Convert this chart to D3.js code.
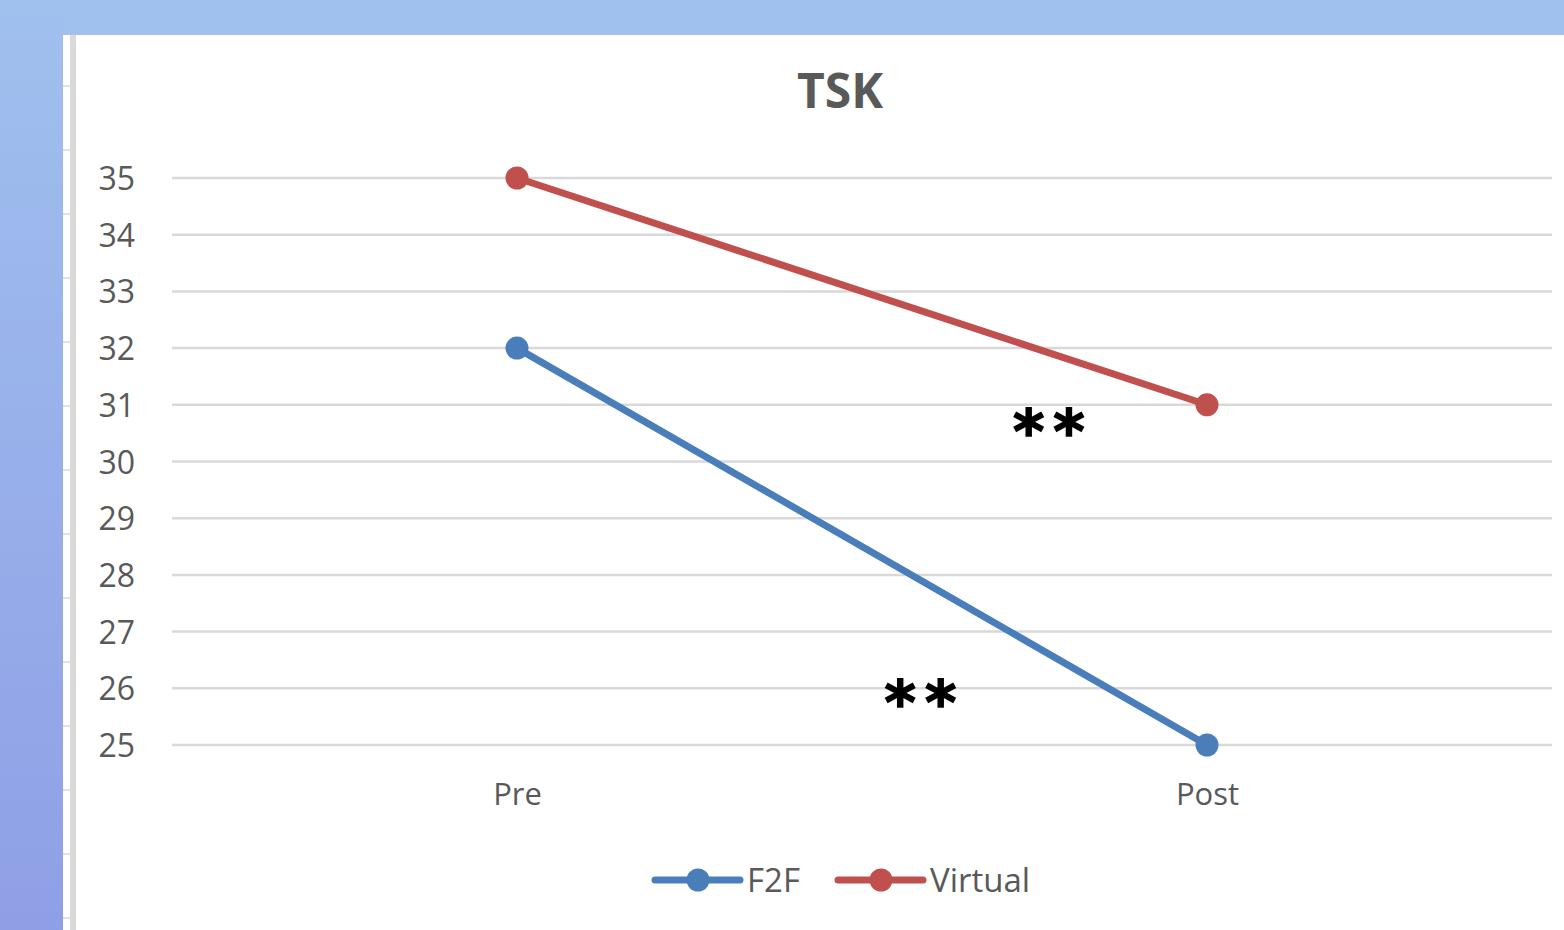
<!DOCTYPE html>
<html>
<head>
<meta charset="utf-8">
<script src="https://cdn.jsdelivr.net/npm/d3@7"></script>
<style>
  body { margin: 0; overflow: hidden; }
  text { font-family: "Open Sans", "Noto Sans", sans-serif; }
</style>
</head>
<body>
<div id="chart"></div>
<script>
var categories = ['Pre', 'Post']
var f2f = [32, 25]
var virtual = [35, 31]
var yTicks = [25, 26, 27, 28, 29, 30, 31, 32, 33, 34, 35]
var seriesNames = ['F2F', 'Virtual']
var seriesColors = ['#4a7ebb', '#c0504d']
// significance marks: [fraction of the way from Pre to Post, value]
var marks = [[0.77, 30.66], [0.584, 25.88]]

var W = 1564, H = 930

var svg = d3.select('#chart')
    .append('svg')
    .attr('width', W)
    .attr('height', H)

// slide background
var grad = svg.append('defs').append('linearGradient')
    .attr('id', 'bg')
    .attr('x1', 0).attr('y1', 0).attr('x2', 0).attr('y2', 1)
grad.append('stop').attr('offset', '0%').attr('stop-color', '#a0c0ee')
grad.append('stop').attr('offset', '100%').attr('stop-color', '#8f9fe6')

svg.append('rect').attr('width', W).attr('height', H).attr('fill', 'url(#bg)')
svg.append('rect').attr('x', 63).attr('y', 0).attr('width', W - 63).attr('height', 35).attr('fill', '#a0c0ee')
svg.append('rect').attr('x', 63).attr('y', 35).attr('width', W - 63).attr('height', H - 35).attr('fill', '#fff')
svg.append('rect').attr('x', 70).attr('y', 35).attr('width', 6).attr('height', H - 35).attr('fill', '#d9d9d9')
d3.range(86, H, 64).forEach(function(y) {
    svg.append('line').attr('x1', 63).attr('x2', 70).attr('y1', y).attr('y2', y)
        .attr('stroke', '#e2e2e2').attr('stroke-width', 2)
})

var x = d3.scalePoint()
    .domain(categories)
    .range([172, 1552])
    .padding(0.5)

var y = d3.scaleLinear()
    .domain([25, 35])
    .range([745, 178])

var g = svg.append('g')

// gridlines
g.selectAll('.grid')
    .data(yTicks)
    .enter()
    .append('line')
    .attr('x1', 172)
    .attr('x2', 1552)
    .attr('y1', d => y(d))
    .attr('y2', d => y(d))
    .attr('stroke', '#d9d9d9')
    .attr('stroke-width', 2.5)

// y axis labels
var yAxis = d3.axisLeft(y).tickValues(yTicks).tickSize(0).tickPadding(0)
var ya = g.append('g').attr('transform', 'translate(135,0)').call(yAxis)
ya.select('.domain').remove()
ya.selectAll('text')
    .attr('font-size', 32)
    .attr('fill', '#595959')
    .attr('dy', '0.36em')
    .style('font-family', '"Open Sans", sans-serif')

// x axis labels
var xAxis = d3.axisBottom(x).tickSize(0).tickPadding(0)
var xa = g.append('g').attr('transform', 'translate(0,805)').call(xAxis)
xa.select('.domain').remove()
xa.selectAll('text')
    .attr('font-size', 31)
    .attr('dy', 0)
    .attr('fill', '#595959')
    .style('font-family', '"Open Sans", sans-serif')

// title
svg.append('text')
    .attr('x', 840)
    .attr('y', 108)
    .attr('text-anchor', 'middle')
    .attr('font-size', 48)
    .attr('font-weight', 'bold')
    .attr('fill', '#595959')
    .text('TSK')

// series
var series = [f2f, virtual]
var line = d3.line()
    .x((d, i) => x(categories[i]))
    .y(d => y(d))

series.forEach(function(vals, si) {
    g.append('path')
        .attr('d', line(vals))
        .attr('fill', 'none')
        .attr('stroke', seriesColors[si])
        .attr('stroke-width', 7)
    g.selectAll('.pt' + si)
        .data(vals)
        .enter()
        .append('circle')
        .attr('cx', (d, i) => x(categories[i]))
        .attr('cy', d => y(d))
        .attr('r', 11.5)
        .attr('fill', seriesColors[si])
})

// significance asterisks
g.selectAll('.sig')
    .data(marks)
    .enter()
    .append('text')
    .attr('x', d => x('Pre') + d[0] * (x('Post') - x('Pre')) + 5)
    .attr('y', d => y(d[1]))
    .attr('dy', '0.48em')
    .attr('text-anchor', 'middle')
    .attr('font-size', 60)
    .attr('font-weight', 'bold')
    .attr('letter-spacing', 9)
    .attr('fill', '#000')
    .attr('stroke', '#000')
    .attr('stroke-width', 1.5)
    .style('font-family', '"DejaVu Sans", sans-serif')
    .text('**')

// legend
var legendX = [655, 838]
seriesNames.forEach(function(name, i) {
    var lg = svg.append('g').attr('transform', 'translate(' + legendX[i] + ',880)')
    lg.append('line').attr('x1', 0).attr('x2', 85)
        .attr('stroke', seriesColors[i]).attr('stroke-width', 7).attr('stroke-linecap', 'round')
    lg.append('circle').attr('cx', 43).attr('r', 11.5).attr('fill', seriesColors[i])
    lg.append('text').attr('x', 92).attr('dy', '0.35em')
        .attr('font-size', 33).attr('fill', '#595959').text(name)
})
</script>
</body>
</html>
